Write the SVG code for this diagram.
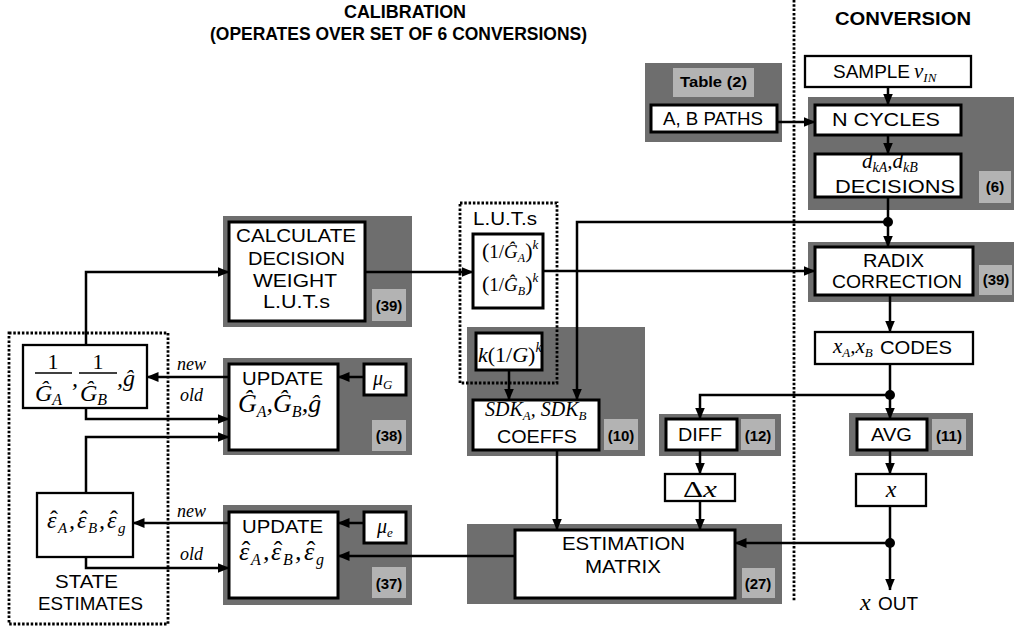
<svg xmlns="http://www.w3.org/2000/svg" width="1014" height="630" viewBox="0 0 1014 630">
<style>
.g{fill:#6e6e6e}
.l{fill:#b3b3b3}
.bx{fill:#fff;stroke:#000;stroke-width:3}
.bt{fill:#fff;stroke:#000;stroke-width:2.3}
.w{fill:none;stroke:#000;stroke-width:2.5}
.dt{fill:none;stroke:#000;stroke-width:2.8;stroke-dasharray:2.5 1.8}
.s{font-family:"Liberation Sans",Arial,sans-serif;font-size:18px;fill:#000}
.b{font-family:"Liberation Sans",Arial,sans-serif;font-weight:bold;font-size:15px;fill:#000}
.h{font-family:"Liberation Sans",Arial,sans-serif;font-weight:bold;font-size:18px;fill:#000}
.m{font-family:"Liberation Serif","Times New Roman",serif;font-style:italic;fill:#000}
.u{font-style:normal}
</style>
<defs>
<marker id="a" markerWidth="12" markerHeight="10" refX="11.5" refY="5" orient="auto" markerUnits="userSpaceOnUse"><path d="M0,0 L12,5 L0,10 z" fill="#000"/></marker>
</defs>

<!-- titles -->
<text class="h" x="344" y="18" textLength="122" lengthAdjust="spacingAndGlyphs">CALIBRATION</text>
<text class="h" x="210" y="40" textLength="377" lengthAdjust="spacingAndGlyphs">(OPERATES OVER SET OF 6 CONVERSIONS)</text>
<text class="h" x="835" y="25" textLength="136" lengthAdjust="spacingAndGlyphs">CONVERSION</text>
<line class="dt" x1="794" y1="0" x2="794" y2="602"/>

<g id="tableGroup">
<rect class="g" x="645" y="63" width="137" height="79"/>
<rect class="l" x="673" y="68" width="81" height="29"/>
<text class="b" x="680" y="87" textLength="67" lengthAdjust="spacingAndGlyphs">Table (2)</text>
<rect class="bx" x="651" y="105" width="126" height="27"/>
<text class="s" x="663" y="125" font-size="17" textLength="100" lengthAdjust="spacingAndGlyphs">A, B PATHS</text>
</g>

<g id="sample">
<rect class="bt" x="805" y="56" width="166" height="31"/>
<text class="s" x="833" y="78" textLength="77" lengthAdjust="spacingAndGlyphs">SAMPLE</text>
<text class="m" x="914" y="78" font-size="21">v<tspan font-size="13" dy="4">IN</tspan></text>
</g>

<g id="nCyclesGroup">
<rect class="g" x="808" y="97" width="206" height="113"/>
<rect class="l" x="979" y="171" width="32" height="32"/>
<text class="b" x="995" y="192" text-anchor="middle">(6)</text>
<rect class="bx" x="815" y="105" width="146" height="30"/>
<text class="s" x="832" y="126" textLength="108" lengthAdjust="spacingAndGlyphs">N CYCLES</text>
<rect class="bx" x="815" y="154" width="146" height="43"/>
<text class="m" x="862" y="168" font-size="21">d<tspan font-size="14" dy="4">kA</tspan><tspan dy="-4">,d</tspan><tspan font-size="14" dy="4">kB</tspan></text>
<text class="s" x="835" y="193" textLength="120" lengthAdjust="spacingAndGlyphs">DECISIONS</text>
</g>

<g id="calculate">
<rect class="g" x="223" y="216" width="189" height="111"/>
<rect class="l" x="372" y="289" width="34" height="32"/>
<text class="b" x="389" y="311" text-anchor="middle">(39)</text>
<rect class="bx" x="229" y="222" width="136" height="99"/>
<text class="s" x="236" y="242" textLength="120" lengthAdjust="spacingAndGlyphs">CALCULATE</text>
<text class="s" x="248" y="265" textLength="97" lengthAdjust="spacingAndGlyphs">DECISION</text>
<text class="s" x="253" y="287" textLength="84" lengthAdjust="spacingAndGlyphs">WEIGHT</text>
<text class="s" x="263" y="308" textLength="67" lengthAdjust="spacingAndGlyphs">L.U.T.s</text>
</g>

<g id="sdk">
<rect class="g" x="467" y="327" width="178" height="129"/>
<rect class="l" x="604" y="419" width="34" height="31"/>
<text class="b" x="621" y="441" text-anchor="middle">(10)</text>
<rect class="bx" x="473" y="400" width="126" height="50"/>
<text class="m" x="485" y="416" font-size="20">SDK<tspan font-size="13" dy="4">A</tspan><tspan dy="-4">, SDK</tspan><tspan font-size="13" dy="4">B</tspan></text>
<text class="s" x="497" y="443" textLength="80" lengthAdjust="spacingAndGlyphs">COEFFS</text>
</g>

<g id="luts">
<rect class="bx" x="473" y="234" width="70" height="74"/>
<text class="m" x="482" y="258" font-size="19"><tspan class="u" font-size="22">(</tspan><tspan class="u">1/</tspan>Ĝ<tspan font-size="12" dy="4">A</tspan><tspan class="u" font-size="22" dy="-4">)</tspan><tspan font-size="13" dy="-9">k</tspan></text>
<text class="m" x="482" y="291" font-size="19"><tspan class="u" font-size="22">(</tspan><tspan class="u">1/</tspan>Ĝ<tspan font-size="12" dy="4">B</tspan><tspan class="u" font-size="22" dy="-4">)</tspan><tspan font-size="13" dy="-9">k</tspan></text>
<rect class="bx" x="476" y="333" width="66" height="37"/>
<text class="m" x="478" y="362" font-size="22">k<tspan class="u">(1/</tspan>G<tspan class="u">)</tspan><tspan font-size="14" dy="-10">k</tspan></text>
<rect class="dt" x="460" y="203" width="97" height="180"/>
<text class="s" x="473" y="225" textLength="64" lengthAdjust="spacingAndGlyphs">L.U.T.s</text>
</g>

<g id="radix">
<rect class="g" x="808" y="242" width="206" height="60"/>
<rect class="l" x="979" y="265" width="33" height="30"/>
<text class="b" x="996" y="285" text-anchor="middle">(39)</text>
<rect class="bx" x="815" y="247" width="158" height="48"/>
<text class="s" x="863" y="267" textLength="61" lengthAdjust="spacingAndGlyphs">RADIX</text>
<text class="s" x="832" y="288" textLength="130" lengthAdjust="spacingAndGlyphs">CORRECTION</text>
</g>

<g id="codes">
<rect class="bt" x="815" y="332" width="158" height="32"/>
<text class="m" x="833" y="353" font-size="21">x<tspan font-size="13" dy="4">A</tspan><tspan dy="-4">,x</tspan><tspan font-size="13" dy="4">B</tspan></text>
<text class="s" x="880" y="354" textLength="72" lengthAdjust="spacingAndGlyphs">CODES</text>
</g>

<g id="diff">
<rect class="g" x="659" y="414" width="122" height="42"/>
<rect class="l" x="741" y="419" width="34" height="31"/>
<text class="b" x="758" y="441" text-anchor="middle">(12)</text>
<rect class="bx" x="666" y="419" width="71" height="31"/>
<text class="s" x="678" y="441" textLength="44" lengthAdjust="spacingAndGlyphs">DIFF</text>
</g>

<g id="deltaX">
<rect class="bt" x="665" y="474" width="70" height="27"/>
<text class="m" x="683" y="497" font-size="23" textLength="34" lengthAdjust="spacingAndGlyphs"><tspan class="u">Δ</tspan>x</text>
</g>

<g id="avg">
<rect class="g" x="849" y="413" width="124" height="43"/>
<rect class="l" x="932" y="419" width="34" height="31"/>
<text class="b" x="949" y="441" text-anchor="middle">(11)</text>
<rect class="bx" x="857" y="419" width="70" height="31"/>
<text class="s" x="871" y="441" textLength="41" lengthAdjust="spacingAndGlyphs">AVG</text>
</g>

<g id="xBox">
<rect class="bt" x="856" y="474" width="70" height="32"/>
<text class="m" x="891" y="497" font-size="24" text-anchor="middle">x</text>
</g>

<g id="xOut">
<text class="m" x="860" y="610" font-size="24">x</text>
<text class="s" x="878" y="610" textLength="40" lengthAdjust="spacingAndGlyphs">OUT</text>
</g>

<g id="estimation">
<rect class="g" x="467" y="524" width="315" height="80"/>
<rect class="l" x="742" y="568" width="33" height="30"/>
<text class="b" x="758" y="589" text-anchor="middle">(27)</text>
<rect class="bx" x="515" y="530" width="220" height="68"/>
<text class="s" x="562" y="550" textLength="123" lengthAdjust="spacingAndGlyphs">ESTIMATION</text>
<text class="s" x="585" y="573" textLength="76" lengthAdjust="spacingAndGlyphs">MATRIX</text>
</g>

<g id="updateG">
<rect class="g" x="223" y="358" width="189" height="97"/>
<rect class="l" x="372" y="420" width="34" height="31"/>
<text class="b" x="389" y="441" text-anchor="middle">(38)</text>
<rect class="bx" x="229" y="364" width="109" height="86"/>
<text class="s" x="242" y="385" textLength="81" lengthAdjust="spacingAndGlyphs">UPDATE</text>
<text class="m" x="238" y="412" font-size="26">Ĝ<tspan font-size="16" dy="5">A</tspan><tspan dy="-5">,Ĝ</tspan><tspan font-size="16" dy="5">B</tspan><tspan dy="-5">,ĝ</tspan></text>
<rect class="bx" x="364" y="364" width="42" height="31"/>
<text class="m" x="373" y="385" font-size="20">μ<tspan font-size="13" dy="4">G</tspan></text>
</g>

<g id="updateE">
<rect class="g" x="223" y="505" width="189" height="100"/>
<rect class="l" x="372" y="567" width="34" height="31"/>
<text class="b" x="389" y="589" text-anchor="middle">(37)</text>
<rect class="bx" x="229" y="512" width="109" height="86"/>
<text class="s" x="242" y="533" textLength="81" lengthAdjust="spacingAndGlyphs">UPDATE</text>
<text class="m" font-size="26"><tspan x="239" y="560">ε</tspan><tspan x="251" y="565" font-size="16">A</tspan><tspan x="263" y="560">,</tspan><tspan x="271" y="560">ε</tspan><tspan x="283" y="565" font-size="16">B</tspan><tspan x="295" y="560">,</tspan><tspan x="304" y="560">ε</tspan><tspan x="316" y="565" font-size="16">g</tspan><tspan class="u" x="241.7" y="559">ˆ</tspan><tspan class="u" x="273.7" y="559">ˆ</tspan><tspan class="u" x="306.7" y="559">ˆ</tspan></text>
<rect class="bx" x="364" y="512" width="42" height="31"/>
<text class="m" x="377" y="533" font-size="20">μ<tspan font-size="13" dy="4">e</tspan></text>
</g>

<g id="stateEstimates">
<rect class="dt" x="9" y="333" width="159" height="291"/>
<text class="s" x="55" y="588" textLength="63" lengthAdjust="spacingAndGlyphs">STATE</text>
<text class="s" x="38" y="610" textLength="105" lengthAdjust="spacingAndGlyphs">ESTIMATES</text>
</g>

<g id="gainState">
<rect class="bt" x="23" y="345" width="124" height="63"/>
<text x="53" y="369" font-family="Liberation Serif,serif" font-size="22" text-anchor="middle">1</text>
<line x1="35" y1="373" x2="72" y2="373" stroke="#000" stroke-width="1.5"/>
<text class="m" x="35" y="401" font-size="24">Ĝ<tspan font-size="16" dy="4">A</tspan></text>
<text class="m" x="72" y="386" font-size="24">,</text>
<text x="98" y="369" font-family="Liberation Serif,serif" font-size="22" text-anchor="middle">1</text>
<line x1="79" y1="373" x2="117" y2="373" stroke="#000" stroke-width="1.5"/>
<text class="m" x="80" y="401" font-size="24">Ĝ<tspan font-size="16" dy="4">B</tspan></text>
<text class="m" x="117" y="386" font-size="24">,ĝ</text>
</g>

<g id="errorState">
<rect class="bt" x="37" y="493" width="96" height="64"/>
<text class="m" font-size="24"><tspan x="47" y="528">ε</tspan><tspan x="58" y="533" font-size="15">A</tspan><tspan x="69" y="528">,</tspan><tspan x="77" y="528">ε</tspan><tspan x="88" y="533" font-size="15">B</tspan><tspan x="99" y="528">,</tspan><tspan x="107" y="528">ε</tspan><tspan x="118" y="533" font-size="15">g</tspan><tspan class="u" x="50" y="527">ˆ</tspan><tspan class="u" x="80" y="527">ˆ</tspan><tspan class="u" x="110" y="527">ˆ</tspan></text>
</g>

<g id="labels">
<text class="m" x="177" y="370" font-size="18">new</text>
<text class="m" x="180" y="401" font-size="18">old</text>
<text class="m" x="177" y="517" font-size="18">new</text>
<text class="m" x="180" y="560" font-size="18">old</text>
</g>

<g id="connectors">
<path class="w" d="M777,122 H815" marker-end="url(#a)"/>
<path class="w" d="M888,87 V105" marker-end="url(#a)"/>
<path class="w" d="M888,135 V154" marker-end="url(#a)"/>
<path class="w" d="M888,197 V247" marker-end="url(#a)"/>
<path class="w" d="M888,222 H577 V400" marker-end="url(#a)"/>
<path class="w" d="M365,272 H473" marker-end="url(#a)"/>
<path class="w" d="M543,271 H815" marker-end="url(#a)"/>
<path class="w" d="M509,370 V400" marker-end="url(#a)"/>
<path class="w" d="M890,295 V332" marker-end="url(#a)"/>
<path class="w" d="M890,364 V419" marker-end="url(#a)"/>
<path class="w" d="M890,395 H700 V419" marker-end="url(#a)"/>
<path class="w" d="M700,450 V474" marker-end="url(#a)"/>
<path class="w" d="M700,501 V530" marker-end="url(#a)"/>
<path class="w" d="M557,450 V530" marker-end="url(#a)"/>
<path class="w" d="M890,450 V474" marker-end="url(#a)"/>
<path class="w" d="M890,506 V590" marker-end="url(#a)"/>
<path class="w" d="M890,543 H735" marker-end="url(#a)"/>
<path class="w" d="M515,556 H338" marker-end="url(#a)"/>
<path class="w" d="M364,523 H338" marker-end="url(#a)"/>
<path class="w" d="M229,523 H133" marker-end="url(#a)"/>
<path class="w" d="M86,557 V568 H229" marker-end="url(#a)"/>
<path class="w" d="M364,377 H338" marker-end="url(#a)"/>
<path class="w" d="M229,377 H147" marker-end="url(#a)"/>
<path class="w" d="M86,408 V419 H229" marker-end="url(#a)"/>
<path class="w" d="M86,493 V437 H229" marker-end="url(#a)"/>
<path class="w" d="M86,345 V272 H229" marker-end="url(#a)"/>
<circle cx="888" cy="222" r="5"/>
<circle cx="890" cy="395" r="5"/>
<circle cx="890" cy="543" r="5"/>
</g>
</svg>
